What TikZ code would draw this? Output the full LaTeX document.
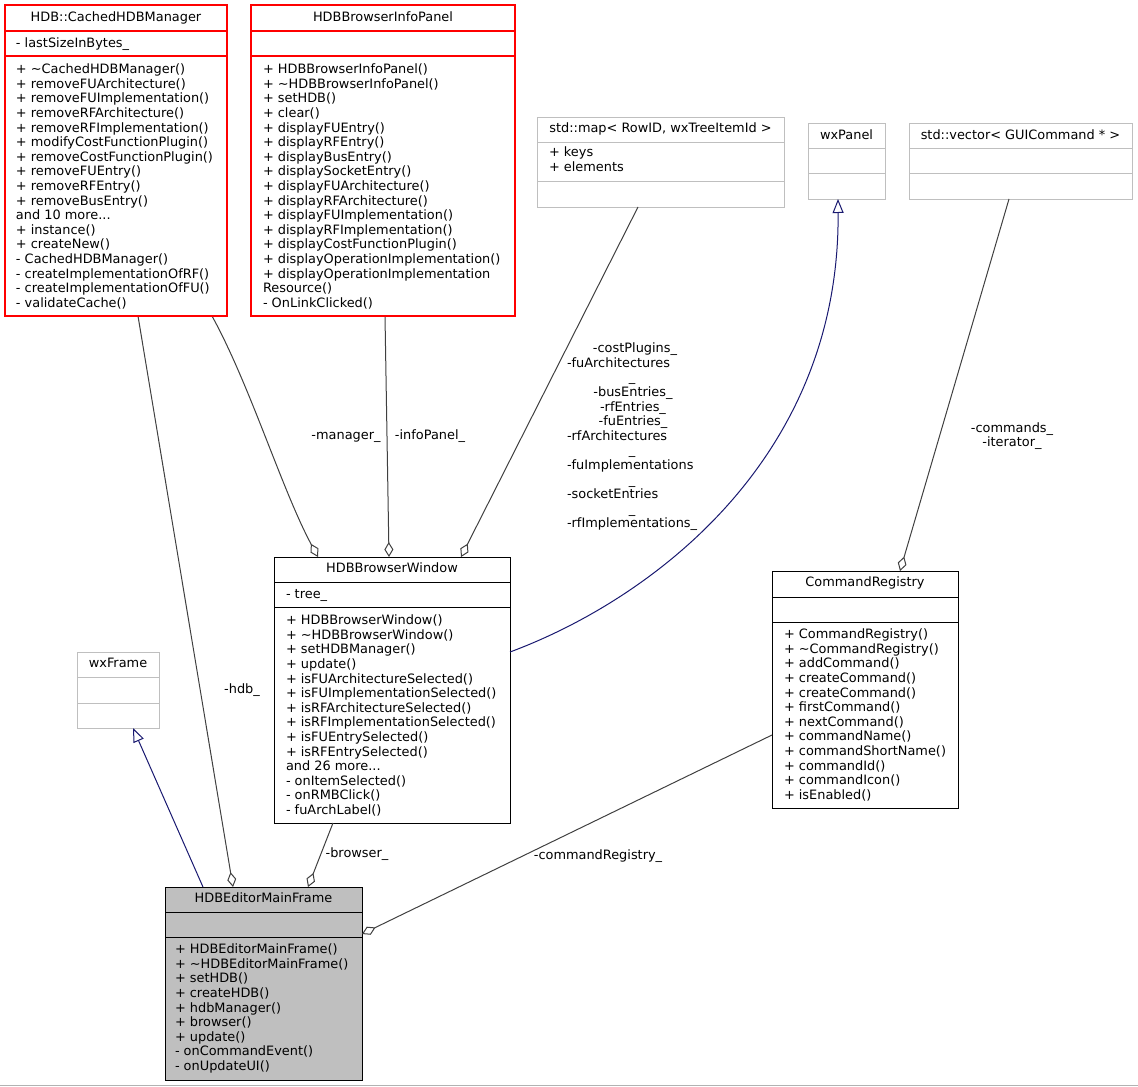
\documentclass[tikz,border=0pt]{standalone}
\usepackage{fontspec}
\setmainfont{DejaVu Sans}
\usetikzlibrary{arrows.meta}
\definecolor{edgegray}{HTML}{404040}
\definecolor{inhblue}{HTML}{191970}
\definecolor{extgray}{HTML}{BFBFBF}
\definecolor{mainfill}{HTML}{BFBFBF}
\definecolor{trunc}{HTML}{FF0000}
\newcommand\tl{\textasciitilde}
\tikzset{
  box/.style={anchor=north west, inner sep=0pt, outer sep=0pt, line width=1pt, fill=white},
  redbox/.style={box, draw=trunc, line width=1.2pt},
  blkbox/.style={box, draw=black},
  greybox/.style={box, draw=extgray},
  redline/.style={draw=trunc, line width=1.2pt},
  blkline/.style={draw=black, line width=1pt},
  greyline/.style={draw=extgray, line width=1pt},
  txt/.style={inner sep=0pt, outer sep=0pt, align=left, font=\fontsize{12.9}{14.6}\selectfont, anchor=north west},
  ttl/.style={inner sep=0pt, outer sep=0pt, font=\fontsize{12.9}{14.6}\selectfont, anchor=base},
  lbl/.style={inner sep=0pt, outer sep=0pt, font=\fontsize{12.9}{14.6}\selectfont, anchor=base},
  lblw/.style={lbl, anchor=base west},
  usage/.style={draw=edgegray, line width=1pt, -{Diamond[length=15pt, width=9pt, fill=white]}},
  inherit/.style={draw=inhblue, line width=1pt, -{Triangle[length=14pt, width=11pt, fill=white]}},
}
\begin{document}
\begin{tikzpicture}[x=1pt, y=-1pt]
\useasboundingbox (0,0) rectangle (1138,1087);
\draw[gray!60, line width=0.6pt] (0,1085.5) -- (1138,1085.5);

% ---------- HDB::CachedHDBManager
\node[redbox, minimum width=222pt, minimum height=311pt] (cached) at (5,5) {};
\node[ttl] (cachedT) at (116,21.7) {HDB::CachedHDBManager};
\node[txt] (cachedA) at (16,43-5.5) {\strut- lastSizeInBytes\_};
\node[txt] (cachedM) at (16,69-5.5) {\strut+ \tl CachedHDBManager()\\+ removeFUArchitecture()\\+ removeFUImplementation()\\+ removeRFArchitecture()\\+ removeRFImplementation()\\+ modifyCostFunctionPlugin()\\+ removeCostFunctionPlugin()\\+ removeFUEntry()\\+ removeRFEntry()\\+ removeBusEntry()\\and 10 more...\\+ instance()\\+ createNew()\\- CachedHDBManager()\\- createImplementationOfRF()\\- createImplementationOfFU()\\- validateCache()};

% ---------- HDBBrowserInfoPanel
\node[redbox, minimum width=264pt, minimum height=311pt] (info) at (251,5) {};
\node[ttl] (infoT) at (383,21.7) {HDBBrowserInfoPanel};
\node[txt] (infoM) at (263,69-5.5) {\strut+ HDBBrowserInfoPanel()\\+ \tl HDBBrowserInfoPanel()\\+ setHDB()\\+ clear()\\+ displayFUEntry()\\+ displayRFEntry()\\+ displayBusEntry()\\+ displaySocketEntry()\\+ displayFUArchitecture()\\+ displayRFArchitecture()\\+ displayFUImplementation()\\+ displayRFImplementation()\\+ displayCostFunctionPlugin()\\+ displayOperationImplementation()\\+ displayOperationImplementation\\Resource()\\- OnLinkClicked()};

% ---------- std::map
\node[greybox, minimum width=247pt, minimum height=90pt] (map) at (537,117) {};
\draw[greyline] (map.west |- 0,142) -- (map.east |- 0,142);
\draw[greyline] (map.west |- 0,181) -- (map.east |- 0,181);
\node[ttl] (mapT) at (660.5,128+4.7) {std::map< RowID, wxTreeItemId >};
\node[txt] (mapA) at (549,152-5.5) {\strut+ keys\\+ elements};

% ---------- wxPanel
\node[greybox, minimum width=77pt, minimum height=76pt] (wxpanel) at (808,123) {};
\draw[greyline] (wxpanel.west |- 0,148) -- (wxpanel.east |- 0,148);
\draw[greyline] (wxpanel.west |- 0,173) -- (wxpanel.east |- 0,173);
\node[ttl] (wxpanelT) at (846.5,135+4.7) {wxPanel};

% ---------- std::vector
\node[greybox, minimum width=223pt, minimum height=76pt] (vec) at (909,123) {};
\draw[greyline] (vec.west |- 0,148) -- (vec.east |- 0,148);
\draw[greyline] (vec.west |- 0,173) -- (vec.east |- 0,173);
\node[ttl] (vecT) at (1020.5,135+4.7) {std::vector< GUICommand * >};

% ---------- wxFrame
\node[greybox, minimum width=82pt, minimum height=76pt] (wxframe) at (77,652) {};
\draw[greyline] (wxframe.west |- 0,677) -- (wxframe.east |- 0,677);
\draw[greyline] (wxframe.west |- 0,703) -- (wxframe.east |- 0,703);
\node[ttl] (wxframeT) at (118,663+4.7) {wxFrame};

% ---------- HDBBrowserWindow
\node[blkbox, minimum width=236pt, minimum height=266pt] (bw) at (274,557) {};
\draw[blkline] (bw.west |- 0,582) -- (bw.east |- 0,582);
\draw[blkline] (bw.west |- 0,607) -- (bw.east |- 0,607);
\node[ttl] (bwT) at (392,568+4.7) {HDBBrowserWindow};
\node[txt] (bwA) at (286,594-5.5) {\strut- tree\_};
\node[txt] (bwM) at (286,620-5.5) {\strut+ HDBBrowserWindow()\\+ \tl HDBBrowserWindow()\\+ setHDBManager()\\+ update()\\+ isFUArchitectureSelected()\\+ isFUImplementationSelected()\\+ isRFArchitectureSelected()\\+ isRFImplementationSelected()\\+ isFUEntrySelected()\\+ isRFEntrySelected()\\and 26 more...\\- onItemSelected()\\- onRMBClick()\\- fuArchLabel()};

% ---------- CommandRegistry
\node[blkbox, minimum width=186pt, minimum height=237pt] (cr) at (772,571) {};
\draw[blkline] (cr.west |- 0,597) -- (cr.east |- 0,597);
\draw[blkline] (cr.west |- 0,622) -- (cr.east |- 0,622);
\node[ttl] (crT) at (865,582+4.7) {CommandRegistry};
\node[txt] (crM) at (784,634-5.5) {\strut+ CommandRegistry()\\+ \tl CommandRegistry()\\+ addCommand()\\+ createCommand()\\+ createCommand()\\+ firstCommand()\\+ nextCommand()\\+ commandName()\\+ commandShortName()\\+ commandId()\\+ commandIcon()\\+ isEnabled()};

% ---------- HDBEditorMainFrame
\node[blkbox, fill=mainfill, minimum width=197pt, minimum height=193pt] (mf) at (165,887) {};
\draw[blkline] (mf.west |- 0,912) -- (mf.east |- 0,912);
\draw[blkline] (mf.west |- 0,937) -- (mf.east |- 0,937);
\node[ttl] (mfT) at (263.5,898+4.7) {HDBEditorMainFrame};
\node[txt] (mfM) at (175,949-5.5) {\strut+ HDBEditorMainFrame()\\+ \tl HDBEditorMainFrame()\\+ setHDB()\\+ createHDB()\\+ hdbManager()\\+ browser()\\+ update()\\- onCommandEvent()\\- onUpdateUI()};

% ---------- connectors
\draw[inherit] (mf.north -| 203,0) -- (wxframe.south -| 133,0);
\draw[inherit] (bw.east |- 0,652) .. controls (650,600) and (840,460) .. (wxpanel.south -| 838,0);
\draw[usage] (cached.south -| 138,0) -- (mf.north -| 233,0);
\draw[usage] (bw.south -| 333,0) -- (mf.north -| 308,0);
\draw[usage] (cr.west |- 0,735) -- (mf.east |- 0,934);
\draw[usage] (cached.south -| 212,0) .. controls (250,385) and (282,490) .. (bw.north -| 318,0);
\draw[usage] (info.south -| 385,0) -- (bw.north -| 389,0);
\draw[usage] (map.south -| 638,0) -- (bw.north -| 461,0);
\draw[usage] (vec.south -| 1009,0) -- (cr.north -| 900,0);

% ---------- red frames of the truncated classes, drawn last
\draw[redline] (cached.north west) rectangle (cached.south east);
\draw[redline] (cached.west |- 0,31) -- (cached.east |- 0,31);
\draw[redline] (cached.west |- 0,56) -- (cached.east |- 0,56);
\draw[redline] (info.north west) rectangle (info.south east);
\draw[redline] (info.west |- 0,31) -- (info.east |- 0,31);
\draw[redline] (info.west |- 0,56) -- (info.east |- 0,56);

% ---------- connector labels
\node[lbl] (lhdb) at (242,689+4.7) {-hdb\_};
\node[lbl] (lman) at (346,435+4.7) {-manager\_};
\node[lbl] (linfo) at (430,435+4.7) {-infoPanel\_};
\node[lbl] (lbrow) at (357,853+4.7) {-browser\_};
\node[lbl] (lcreg) at (598,855+4.7) {-commandRegistry\_};
\node[lbl] (lcmd) at (1012,428+4.7) {-commands\_};
\node[lbl] (liter) at (1012,442+4.7) {-iterator\_};

\node[lbl]  (m0)  at (635,348+4.7)   {-costPlugins\_};
\node[lblw] (m1)  at (567,362.6+4.7) {-fuArchitectures};
\node[lbl]  (m2)  at (632,377.2+4.7) {\_};
\node[lbl]  (m3)  at (633,391.8+4.7) {-busEntries\_};
\node[lbl]  (m4)  at (633,406.4+4.7) {-rfEntries\_};
\node[lbl]  (m5)  at (633,421+4.7)   {-fuEntries\_};
\node[lblw] (m6)  at (567,435.6+4.7) {-rfArchitectures};
\node[lbl]  (m7)  at (632,450.2+4.7) {\_};
\node[lblw] (m8)  at (567,464.8+4.7) {-fuImplementations};
\node[lbl]  (m9)  at (632,479.4+4.7) {\_};
\node[lblw] (m10) at (567,494+4.7)   {-socketEntries};
\node[lbl]  (m11) at (632,508.6+4.7) {\_};
\node[lblw] (m12) at (567,523.2+4.7) {-rfImplementations\_};
\end{tikzpicture}
\end{document}
